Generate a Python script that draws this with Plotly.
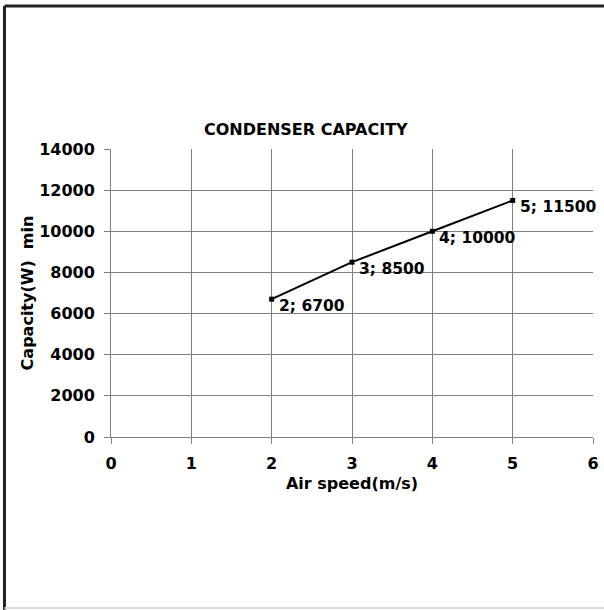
import plotly.graph_objects as go

air_speed = [2, 3, 4, 5]
capacity = [6700, 8500, 10000, 11500]
x_ticks = [0, 1, 2, 3, 4, 5, 6]
y_ticks = [0, 2000, 4000, 6000, 8000, 10000, 12000, 14000]

FONT = "DejaVu Sans"
GRID = "#808080"
FS = 16

fig = go.Figure()
fig.add_trace(go.Scatter(
    x=air_speed, y=capacity, mode="lines+markers",
    line=dict(color="black", width=2),
    marker=dict(symbol="square", size=5, color="black"),
    showlegend=False, hoverinfo="skip",
))

annotations = []
for xv, yv in zip(air_speed, capacity):
    annotations.append(dict(
        x=xv, y=yv, xref="x", yref="y", text=f"<b>{xv}; {yv}</b>",
        showarrow=False, xanchor="left", yanchor="middle",
        xshift=5, yshift=-7,
        font=dict(family=FONT, size=15.5, color="black"),
    ))

annotations.append(dict(
    x=0.4056, y=1.0, xref="paper", yref="paper", yanchor="bottom", yshift=8,
    text="<b>CONDENSER CAPACITY</b>", showarrow=False,
    font=dict(family=FONT, size=FS, color="black"),
))

fig.update_layout(
    width=604, height=610, autosize=False,
    margin=dict(l=111, r=11, t=149, b=173, autoexpand=False),
    paper_bgcolor="white", plot_bgcolor="white",
    annotations=annotations,
    xaxis=dict(
        range=[0, 6], tickvals=x_ticks, ticktext=[str(v) for v in x_ticks],
        showgrid=True, gridcolor=GRID, gridwidth=1, automargin=False,
        zeroline=False, showline=True, linecolor=GRID, linewidth=1,
        ticks="outside", ticklen=6, tickcolor=GRID,
        tickfont=dict(family=FONT, size=FS, color="black", weight="bold"),
        title=dict(text="<b>Air speed(m/s)</b>", font=dict(family=FONT, size=FS, color="black"), standoff=5),
        ticklabelstandoff=6,
    ),
    yaxis=dict(
        range=[0, 14000], tickvals=y_ticks, ticktext=[str(v) for v in y_ticks],
        showgrid=True, gridcolor=GRID, gridwidth=1, automargin=False,
        zeroline=False, showline=True, linecolor=GRID, linewidth=1,
        ticks="outside", ticklen=6, tickcolor=GRID,
        tickfont=dict(family=FONT, size=FS, color="black", weight="bold"),
        title=dict(text="<b>Capacity(W)  min</b>", font=dict(family=FONT, size=FS, color="black"), standoff=1),
        ticklabelstandoff=6,
    ),
    shapes=[
        dict(type="line", xref="paper", yref="paper", x0=-0.221, x1=1.1, y0=1.4965, y1=1.4965,
             line=dict(color="#222222", width=3)),
        dict(type="line", xref="paper", yref="paper", x0=-0.221, x1=-0.221, y0=-0.6, y1=1.4965,
             line=dict(color="#222222", width=3)),
        dict(type="line", xref="paper", yref="paper", x0=-0.221, x1=1.1, y0=-0.594, y1=-0.594,
             line=dict(color="#dddddd", width=2)),
    ],
)

fig.write_html(
    "out.html",
    config={"displayModeBar": False},
    post_script="document.body.style.margin='0';document.body.style.overflow='hidden';",
)
